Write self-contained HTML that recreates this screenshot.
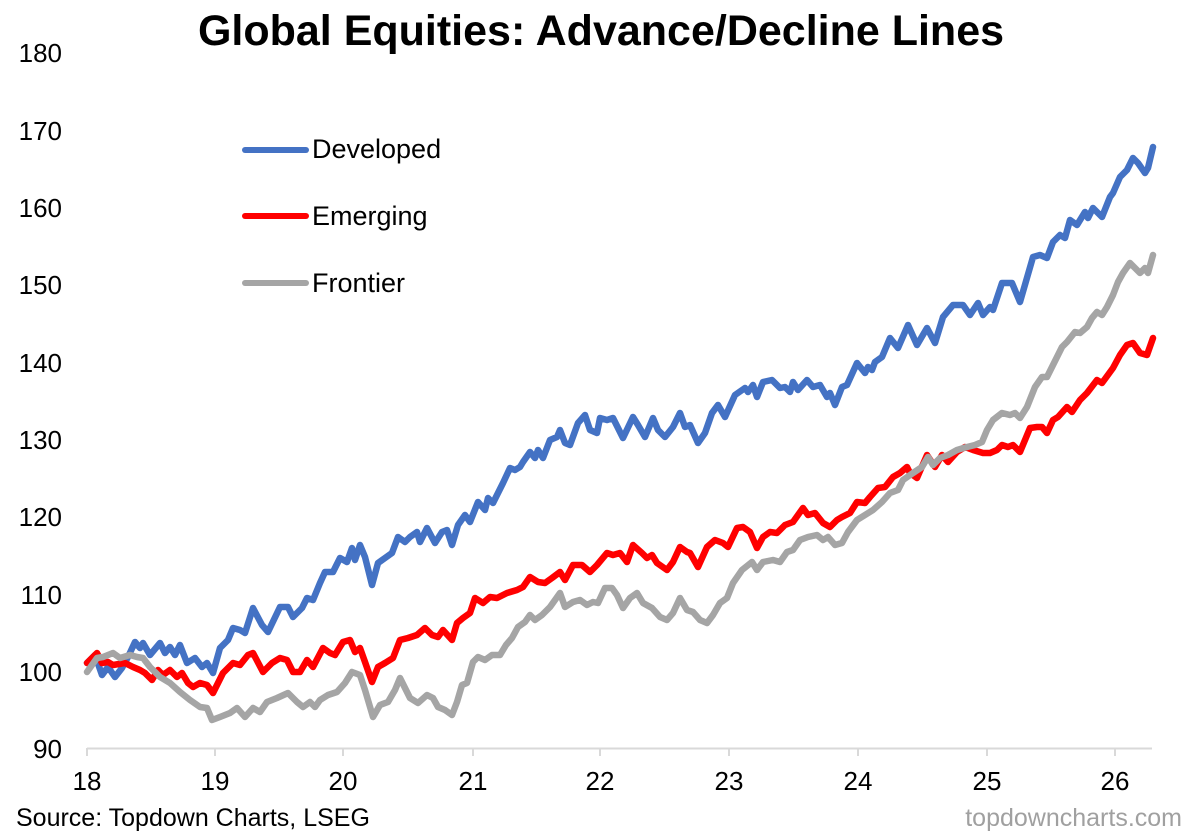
<!DOCTYPE html>
<html><head><meta charset="utf-8"><style>
html,body{margin:0;padding:0;background:#fff;}
svg{display:block;}
text{font-family:"Liberation Sans",Arial,sans-serif;}
</style></head><body>
<svg width="1200" height="839" viewBox="0 0 1200 839" xmlns="http://www.w3.org/2000/svg">
<rect width="1200" height="839" fill="#fff"/>
<text x="601" y="45" font-size="43" font-weight="bold" text-anchor="middle" fill="#000">Global Equities: Advance/Decline Lines</text>
<g font-size="26" fill="#000" text-anchor="end">
<text x="62" y="62">180</text>
<text x="62" y="140">170</text>
<text x="62" y="217">160</text>
<text x="62" y="294">150</text>
<text x="62" y="372">140</text>
<text x="62" y="449">130</text>
<text x="62" y="526">120</text>
<text x="62" y="604">110</text>
<text x="62" y="681">100</text>
<text x="62" y="758">90</text>
</g>
<line x1="87" y1="748.5" x2="1152" y2="748.5" stroke="#d9d9d9" stroke-width="2"/>
<g stroke="#d9d9d9" stroke-width="2">
<line x1="87" y1="748" x2="87" y2="756"/><line x1="215" y1="748" x2="215" y2="756"/><line x1="343" y1="748" x2="343" y2="756"/><line x1="473" y1="748" x2="473" y2="756"/><line x1="600" y1="748" x2="600" y2="756"/><line x1="729" y1="748" x2="729" y2="756"/><line x1="858" y1="748" x2="858" y2="756"/><line x1="987" y1="748" x2="987" y2="756"/><line x1="1115" y1="748" x2="1115" y2="756"/>
</g>
<g font-size="26" fill="#000" text-anchor="middle">
<text x="87" y="790">18</text><text x="215" y="790">19</text><text x="343" y="790">20</text><text x="473" y="790">21</text><text x="600" y="790">22</text><text x="729" y="790">23</text><text x="858" y="790">24</text><text x="987" y="790">25</text><text x="1115" y="790">26</text>
</g>
<g fill="none" stroke-width="6.5" stroke-linejoin="round" stroke-linecap="round">
<polyline stroke="#4472C4" points="87,663 95,655 102,675 108,667 115,677 122,668 128,657 135,642 140,648 143,643 150,655 160,643 165,653 170,647 175,655 180,645 187,663 195,658 202,667 207,663 213,673 220,648 228,640 233,628 240,630 245,633 253,608 262,625 268,632 280,607 288,607 293,617 302,608 307,598 313,600 320,583 325,572 333,572 340,558 347,562 352,548 355,560 360,545 365,557 372,585 378,563 385,558 392,553 398,537 405,542 410,537 417,532 420,542 427,528 435,543 442,532 447,530 452,545 458,525 465,515 470,522 478,502 485,510 488,498 493,503 503,483 510,468 515,470 520,467 523,462 530,452 535,458 538,450 543,458 550,440 557,437 560,430 565,443 570,445 578,423 585,415 590,430 597,433 600,418 607,420 613,418 623,438 633,417 638,425 645,437 653,418 658,430 665,437 673,427 680,413 685,427 690,425 698,443 705,433 712,413 718,405 725,417 735,395 745,388 748,392 753,385 757,397 763,382 772,380 780,388 785,387 790,392 793,382 798,390 807,380 813,387 820,385 827,397 830,393 835,405 842,387 847,385 857,363 865,373 868,367 872,370 875,362 882,357 890,338 898,348 908,325 917,345 927,328 935,343 943,317 953,305 963,305 970,315 978,303 983,315 990,307 993,310 1002,283 1012,283 1020,302 1033,257 1040,255 1047,258 1053,242 1060,235 1065,238 1070,220 1077,225 1085,212 1088,218 1093,208 1102,217 1110,197 1113,193 1120,177 1127,170 1133,158 1138,163 1145,173 1148,168 1153,147"/>
<polyline stroke="#FF0000" points="87,663 97,653 102,663 108,662 113,665 125,663 133,667 140,670 145,673 152,680 158,670 163,675 170,670 177,677 182,673 188,683 193,687 200,683 207,685 213,693 223,673 233,663 240,665 248,655 253,653 263,672 272,663 280,658 287,660 293,672 300,672 307,660 313,667 323,648 330,653 335,655 343,642 350,640 355,652 360,648 365,662 372,682 378,667 385,663 393,658 400,640 408,638 417,635 425,628 432,635 438,637 443,630 452,640 457,623 463,618 470,613 475,598 483,603 490,597 497,598 507,593 517,590 523,587 530,577 538,582 545,583 552,578 560,572 565,580 573,565 582,565 590,572 597,565 607,553 613,555 620,553 627,562 633,545 642,553 647,558 652,555 657,563 667,570 673,562 680,547 687,552 690,553 698,567 707,547 715,540 723,543 728,547 737,528 743,527 750,532 757,548 763,537 770,532 777,533 785,525 793,522 803,508 808,515 815,513 823,523 830,527 837,520 842,517 850,513 857,502 865,503 870,497 878,488 885,487 893,477 900,473 907,467 910,473 917,478 927,455 935,467 942,455 948,462 957,452 965,447 973,450 983,453 990,453 997,450 1002,445 1008,447 1013,445 1020,452 1030,428 1037,427 1042,427 1047,433 1053,420 1058,417 1067,407 1072,412 1080,400 1087,393 1097,380 1102,383 1113,368 1120,355 1127,345 1133,343 1140,353 1147,355 1153,338"/>
<polyline stroke="#A5A5A5" points="87,672 97,658 103,657 113,653 120,658 130,655 137,657 143,658 150,667 160,677 170,683 180,692 190,700 200,707 207,708 212,720 220,717 230,713 237,708 245,717 253,708 260,712 267,702 277,698 288,693 297,702 303,707 310,702 315,707 320,700 328,695 337,692 345,683 352,672 360,675 365,690 373,717 380,705 388,702 395,690 400,678 405,688 410,698 418,703 427,695 433,698 438,707 445,710 452,715 457,702 462,685 467,683 473,662 478,657 485,660 492,655 500,655 506,645 512,638 518,627 525,622 530,615 535,620 542,615 550,607 560,593 565,607 573,602 580,600 587,605 593,602 598,603 605,588 612,588 617,595 623,608 630,598 637,593 643,603 652,608 660,617 667,620 673,613 680,598 687,610 693,612 700,620 707,623 713,615 720,603 727,598 733,583 742,570 752,562 757,570 763,562 773,560 780,562 787,552 793,550 800,540 808,537 817,535 823,540 828,537 835,545 842,543 848,532 857,520 865,515 873,510 882,502 890,493 898,490 903,480 913,473 922,467 928,457 933,465 940,458 948,455 957,450 967,447 975,445 982,442 987,430 993,420 1002,413 1010,415 1015,413 1020,418 1027,407 1035,387 1042,377 1047,377 1053,365 1062,347 1067,342 1075,332 1080,333 1087,327 1092,318 1097,312 1102,315 1107,307 1113,295 1118,282 1123,273 1130,263 1135,268 1140,273 1145,268 1148,273 1153,255"/>
</g>
<g stroke-width="6" stroke-linecap="round">
<line x1="245" y1="150" x2="306" y2="150" stroke="#4472C4"/>
<line x1="245" y1="216" x2="306" y2="216" stroke="#FF0000"/>
<line x1="245" y1="283" x2="306" y2="283" stroke="#A5A5A5"/>
</g>
<g font-size="27" fill="#000">
<text x="312" y="158">Developed</text>
<text x="312" y="225">Emerging</text>
<text x="312" y="292">Frontier</text>
</g>
<text x="16" y="826" font-size="25" fill="#000">Source: Topdown Charts, LSEG</text>
<text x="1182" y="826" font-size="25" fill="#a0a0a0" text-anchor="end">topdowncharts.com</text>
</svg>
</body></html>
